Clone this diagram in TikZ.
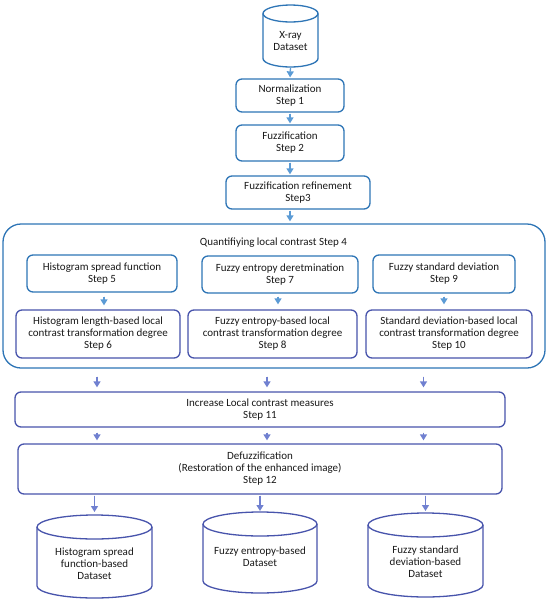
\documentclass[tikz,border=0pt]{standalone}
\usepackage{fontspec}
\setmainfont{Carlito}
\usetikzlibrary{arrows.meta,calc}
\definecolor{bluebd}{RGB}{46,117,182}
\definecolor{bluearr}{RGB}{91,155,213}
\definecolor{purpbd}{RGB}{72,84,172}
\definecolor{purparr}{RGB}{112,128,208}
\definecolor{txtc}{RGB}{25,25,25}
\newcommand\mycyl[7]{% name, cx, top, bottom, rx, ry, color
  \draw[#7,line width=1.3pt,fill=white]
    ({#2-#5},{-(#3+#6)}) -- ({#2-#5},{-(#4-#6)})
    arc[start angle=180,end angle=360,x radius=#5,y radius=#6]
    -- ({#2+#5},{-(#3+#6)});
  \draw[#7,line width=1.3pt] ({#2},{-(#3+#6)}) ellipse[x radius=#5,y radius=#6];
  \coordinate (#1-top) at ({#2},{-#3});
  \coordinate (#1-bot) at ({#2},{-#4});
}
\begin{document}
\begin{tikzpicture}[x=1pt,y=1pt,
  font=\fontsize{11}{12}\selectfont, text=txtc,
  boxA/.style={draw=bluebd,line width=1.3pt,rounded corners=6pt,align=center,inner sep=0pt,fill=white},
  boxP/.style={draw=purpbd,line width=1.3pt,rounded corners=6pt,align=center,inner sep=0pt,fill=white},
  arrA/.style={draw=bluearr,line width=1.3pt,-{Triangle[width=7pt,length=6pt]},fill=bluearr},
  arrP/.style={draw=purparr,line width=1.3pt,-{Triangle[width=7pt,length=6pt]},fill=purparr},
  plain/.style={align=center,inner sep=0pt}]
\useasboundingbox (0,0) rectangle (550,-603);

% top cylinder
\mycyl{xray}{290.5}{5}{67}{27.5}{8.5}{bluebd}
\node[plain] (xrayt) at (290.5,-41) {X-ray\\Dataset};

\node[boxA,minimum width=108pt,minimum height=33pt] (norm) at (290,-95.5) {Normalization\\Step 1};
\node[boxA,minimum width=108pt,minimum height=36pt] (fuzz) at (290,-143) {Fuzzification\\Step 2};
\node[boxA,minimum width=144pt,minimum height=33pt] (refine) at (298,-192.5) {Fuzzification refinement\\Step3};

\node[boxA,rounded corners=18pt,minimum width=542pt,minimum height=144pt] (quant) at (274,-296) {};
\node[plain] (qtitle) at (273.5,-243) {Quantifiying local contrast Step 4};

\node[boxA,minimum width=150pt,minimum height=37pt] (s5) at (102,-273.5) {Histogram spread function\\Step 5};
\node[boxP,minimum width=164pt,minimum height=48pt] (s6) at (98,-334) {Histogram length-based local\\contrast transformation degree\\Step 6};
\node[boxA,minimum width=156pt,minimum height=37pt] (s7) at (280,-274.5) {Fuzzy entropy deretmination\\Step 7};
\node[boxP,minimum width=169pt,minimum height=48pt] (s8) at (272.5,-334) {Fuzzy entropy-based local\\contrast transformation degree\\Step 8};
\node[boxA,minimum width=142pt,minimum height=38pt] (s9) at (444,-274) {Fuzzy standard deviation\\Step 9};
\node[boxP,minimum width=166pt,minimum height=48pt] (s10) at (449,-334) {Standard deviation-based local\\contrast transformation degree\\Step 10};

\node[boxP,minimum width=490pt,minimum height=35pt] (inc) at (260,-409.5) {Increase Local contrast measures\\Step 11};
\node[boxP,minimum width=484pt,minimum height=50pt] (defuz) at (260,-469) {Defuzzification\\(Restoration of the enhanced image)\\Step 12};

% bottom cylinders
\mycyl{c1}{94.5}{515}{598}{57.5}{12}{purpbd}
\node[plain] (c1t) at (94.5,-564) {Histogram spread\\function-based\\Dataset};
\mycyl{c2}{260}{512}{593}{57}{12}{purpbd}
\node[plain] (c2t) at (260,-557) {Fuzzy entropy-based\\Dataset};
\mycyl{c3}{425.5}{513}{597}{57.5}{12}{purpbd}
\node[plain] (c3t) at (425.5,-562) {Fuzzy standard\\deviation-based\\Dataset};

% arrows top chain
\coordinate (rx) at (290,0);
\draw[arrA,shorten <=1pt,shorten >=1pt] (xray-bot) -- (norm.north);
\draw[arrA,shorten <=1pt,shorten >=1pt] (norm.south) -- (fuzz.north);
\draw[arrA,shorten <=1pt,shorten >=1pt] (fuzz.south) -- (refine.north -| rx);
\draw[arrA,shorten <=1pt,shorten >=2pt] (refine.south -| rx) -- (quant.north -| rx);

% inner arrows
\coordinate (a5) at (104,0);
\coordinate (a7) at (278,0);
\coordinate (a9) at (444,0);
\draw[arrA,shorten <=4pt,shorten >=4pt] (s5.south -| a5) -- (s6.north -| a5);
\draw[arrA,shorten <=3pt,shorten >=5pt] (s7.south -| a7) -- (s8.north -| a7);
\draw[arrA,shorten <=3pt,shorten >=5pt] (s9.south -| a9) -- (s10.north -| a9);

% arrows to increase and defuzz
\coordinate (b1) at (97,0);
\coordinate (b2) at (267,0);
\coordinate (b3) at (423.5,0);
\foreach \b in {b1,b2,b3}{
  \draw[arrP,shorten <=8pt,shorten >=4pt] (quant.south -| \b) -- (inc.north -| \b);
  \draw[arrP,shorten <=5pt,shorten >=3pt] (inc.south -| \b) -- (defuz.north -| \b);
}
\draw[arrP,shorten <=1pt,shorten >=3pt] (defuz.south -| c1-top) -- (c1-top);
\draw[arrP,shorten <=1pt,shorten >=1pt] (defuz.south -| c2-top) -- (c2-top);
\draw[arrP,shorten <=1pt,shorten >=2pt] (defuz.south -| c3-top) -- (c3-top);
\end{tikzpicture}
\end{document}
